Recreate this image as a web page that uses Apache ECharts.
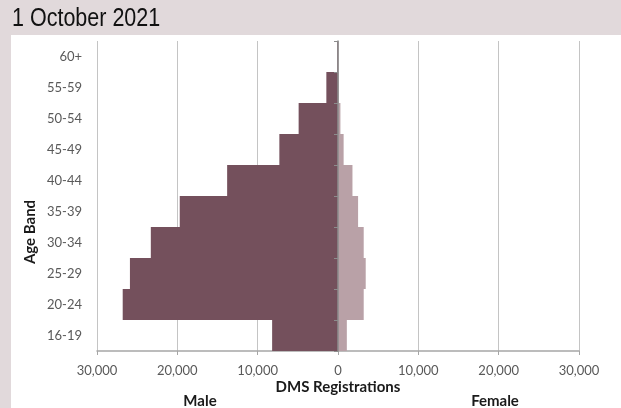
<!DOCTYPE html>
<html><head><meta charset="utf-8">
<script src="https://cdn.jsdelivr.net/npm/echarts@6/dist/echarts.min.js"></script>
<style>html,body{margin:0;padding:0;background:#e1d9db;}#c{width:621px;height:408px;}</style>
</head><body><div id="c"></div>
<script>
const titleText = '1 October 2021';
const categories = ['16-19','20-24','25-29','30-34','35-39','40-44','45-49','50-54','55-59','60+'];
const maleValues = [8200, 26800, 25900, 23300, 19700, 13800, 7300, 4900, 1450, 100];
const femaleValues = [1100, 3200, 3450, 3200, 2500, 1800, 700, 300, 80, 30];
const xTicks = [-30000, -20000, -10000, 0, 10000, 20000, 30000];

const chart = echarts.init(document.getElementById('c'), null, {renderer:'canvas'});
const fmt = v => Math.abs(v).toLocaleString('en-US');
const lab = {fontFamily:'Lato', fontSize:13, color:'#595959'};
const bold = {fontFamily:'Lato', fontSize:15, fontWeight:'bold', fill:'#1a1a1a'};
chart.setOption({
  backgroundColor:'#e1d9db',
  animation:false,
  graphic:[
    {type:'rect', left:11, top:35, shape:{width:610, height:373}, style:{fill:'#ffffff'}, z:-10, silent:true},
    {type:'text', x:12, y:19, scaleX:0.86, style:{text:titleText, align:'left', verticalAlign:'middle', fontFamily:'"Liberation Sans", Arial', fontSize:25, fill:'#111'}},
    {type:'text', x:338, y:387, style:Object.assign({text:'DMS Registrations', align:'center', verticalAlign:'middle'}, bold)},
    {type:'text', x:200, y:401, style:Object.assign({text:'Male', align:'center', verticalAlign:'middle'}, bold)},
    {type:'text', x:495, y:401, style:Object.assign({text:'Female', align:'center', verticalAlign:'middle'}, bold)},
    {type:'text', x:30, y:232, rotation:Math.PI/2, style:Object.assign({text:'Age Band', align:'center', verticalAlign:'middle'}, bold)}
  ],
  grid:{left:97, right:42, top:41, bottom:57, containLabel:false},
  xAxis:{type:'value', min:xTicks[0], max:xTicks[xTicks.length-1], interval:10000,
    axisLine:{show:true, onZero:false, lineStyle:{color:'#a6a6a6', width:1.5}},
    axisTick:{show:true, length:4, lineStyle:{color:'#a6a6a6'}},
    axisLabel:Object.assign({formatter:fmt, margin:13}, lab),
    splitLine:{show:true, lineStyle:{color:'#c4c4c4', width:1}}},
  yAxis:[
    {type:'category', data:categories, position:'left',
      axisLine:{show:false, onZero:false}, axisTick:{show:false},
      axisLabel:Object.assign({margin:15}, lab)},
    {type:'category', data:categories, position:'left', z:10,
      axisLine:{show:true, onZero:true, lineStyle:{color:'#8c8c8c', width:1.5}},
      axisTick:{show:true, length:4, lineStyle:{color:'#8c8c8c'}},
      axisLabel:{show:false}}
  ],
  series:[
    {name:'Male', type:'bar', data:maleValues.map(v=>-v), barCategoryGap:0, barGap:'-100%',
      itemStyle:{color:'#74505c'}, z:2},
    {name:'Female', type:'bar', data:femaleValues, barCategoryGap:0, barGap:'-100%',
      itemStyle:{color:'#b9a1a7'}, z:2}
  ]
});
</script></body></html>
